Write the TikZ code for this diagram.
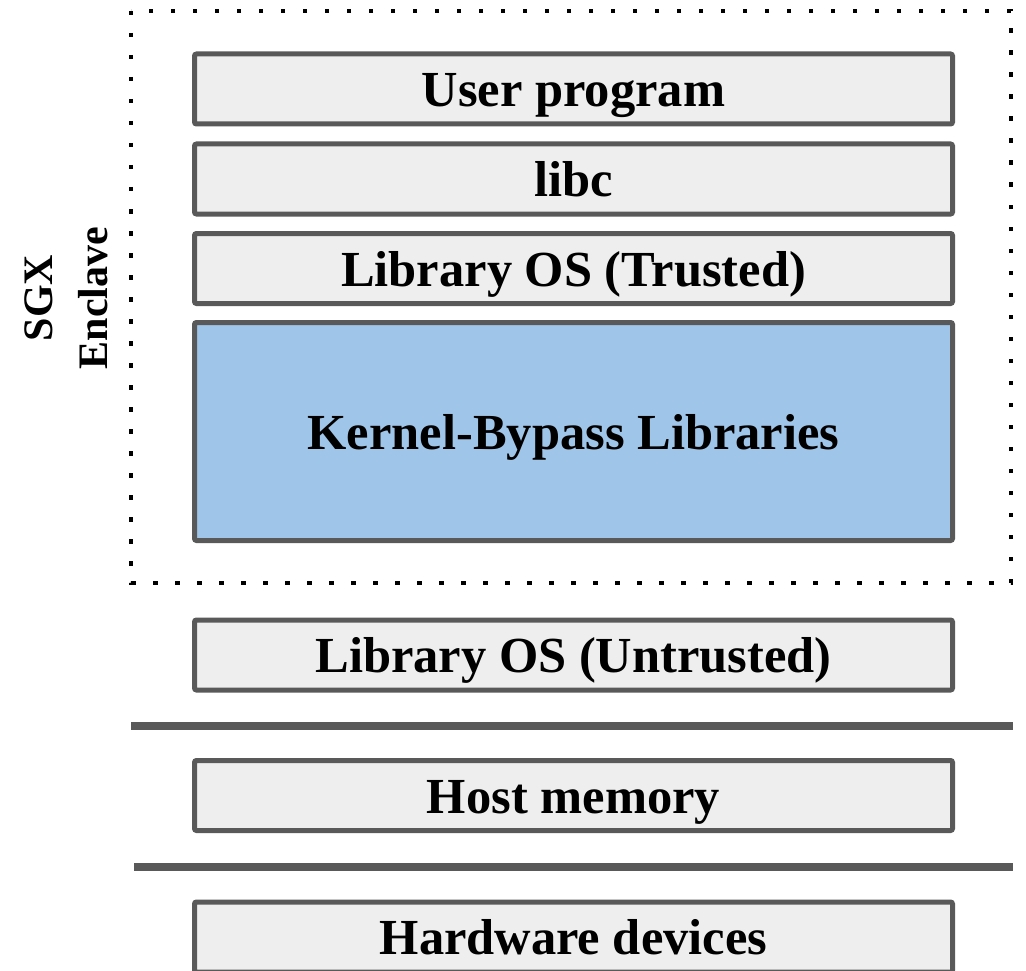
\documentclass[tikz,border=0pt]{standalone}
\usepackage{fontspec}
\setmainfont{Liberation Serif}
\definecolor{edgegray}{HTML}{595959}
\definecolor{layerfill}{HTML}{EEEEEE}
\definecolor{bypassblue}{HTML}{9FC5E8}
\begin{document}
\begin{tikzpicture}[x=1pt,y=-1pt,
  layer/.style={draw=edgegray, line width=5pt, fill=layerfill, rounded corners=2pt,
    minimum width=758pt, minimum height=70pt, inner sep=0pt,
    text height=35pt, text depth=0pt,
    font=\fontsize{50.5}{60}\selectfont\bfseries},
  divider/.style={draw=edgegray, line width=8pt},
  enclave/.style={draw=black, line width=4.5pt, dash pattern=on 4.5pt off 17.5pt}]
  \useasboundingbox (0,0) rectangle (1026,971);
  % enclave boundary
  \draw[enclave] (131,11) rectangle (1011,583);
  \node[rotate=90, align=center, font=\fontsize{42}{55}\selectfont\bfseries] (sgx) at (66,298) {SGX\\Enclave};
  % stacked layers
  \node[layer] (user) at (573.5,89) {User program};
  \node[layer] (libc) at (573.5,179) {libc};
  \node[layer] (lost) at (573.5,268.5) {Library OS (Trusted)};
  \node[layer, fill=bypassblue, minimum height=218pt] (kbl) at (573.5,431.5) {Kernel-Bypass Libraries};
  \node[layer] (losu) at (573.5,655) {Library OS (Untrusted)};
  \node[layer] (host) at (573.5,795.5) {Host memory};
  \node[layer] (hw) at (573.5,937) {Hardware devices};
  % separators
  \coordinate (d1a) at (131,726);
  \coordinate (d1b) at (1013,726);
  \coordinate (d2a) at (134,867);
  \coordinate (d2b) at (1013,867);
  \draw[divider] (d1a) -- (d1b);
  \draw[divider] (d2a) -- (d2b);
\end{tikzpicture}
\end{document}
